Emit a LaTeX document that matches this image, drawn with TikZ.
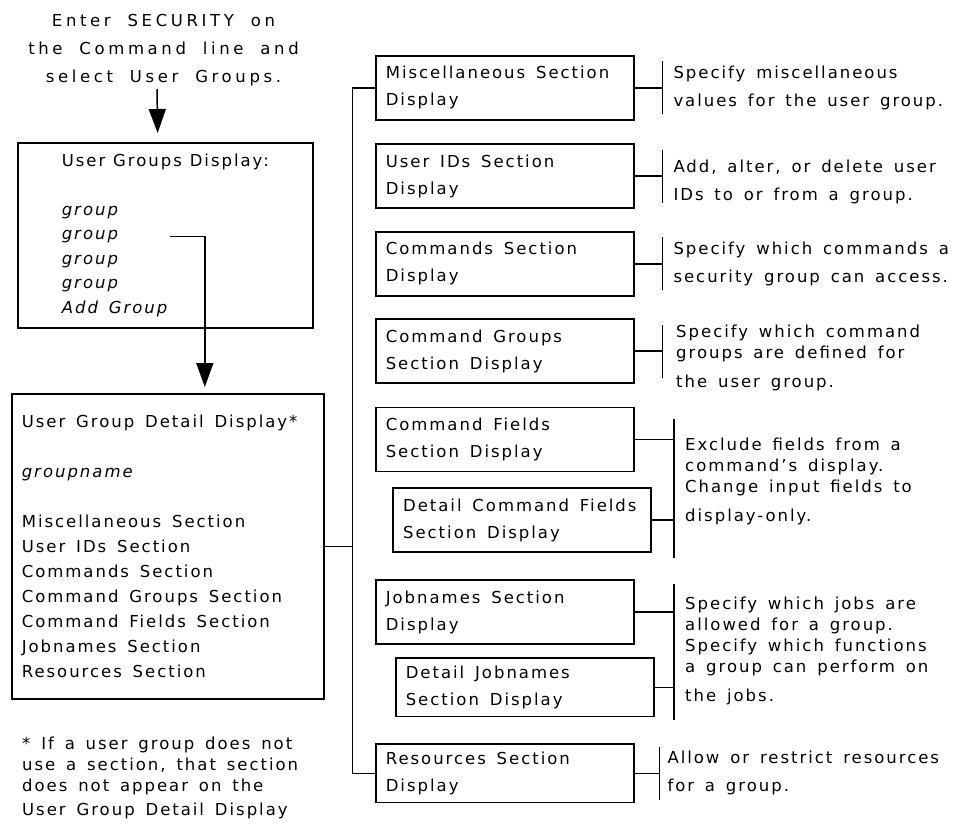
\documentclass[tikz,border=0pt]{standalone}
\usepackage{fontspec}
\usepackage{tikz}
\usetikzlibrary{arrows.meta}

\newfontfamily\boxfont{DejaVu Sans}[LetterSpace=12, WordSpace=1.5]
\newfontfamily\topfont{DejaVu Sans}[LetterSpace=22, WordSpace=1.9]
\newcommand{\toptext}{\topfont\fontsize{16.5}{28}\selectfont}
\newcommand{\boxtext}{\boxfont\fontsize{16.5}{27}\selectfont}
\newcommand{\lefttext}{\boxfont\fontsize{16.5}{25}\selectfont}
\newcommand{\desctight}{\boxfont\fontsize{16.5}{21}\selectfont}
\newcommand{\descloose}{\boxfont\fontsize{16.5}{28}\selectfont}

\tikzset{
	panel/.style={draw, line width=1.6pt, anchor=north west, align=left,
		execute at begin node={\spaceskip=0pt\xspaceskip=0pt\relax}},
	secbox/.style={panel, minimum width=258pt, minimum height=64pt,
		text width=238pt, inner xsep=10pt, font=\boxtext},
	line/.style={line width=1.5pt},
	arr/.style={line width=1.5pt, -{Triangle[length=24pt,width=17pt]}},
	desc/.style={anchor=west, inner sep=0pt, align=left},
}

\begin{document}
\begin{tikzpicture}[x=1pt, y=-1pt]
		\fill[white] (0,0) rectangle (965,823);
		\useasboundingbox (0,0) rectangle (965,823);
		% left column
		\node[font=\toptext, align=center, inner sep=3pt] (enter) at (163.5,50) {Enter SECURITY on\\the Command line and\\select User Groups.};
		\node[panel, minimum width=295pt, minimum height=185pt, text width=207pt, inner xsep=44pt,
			font=\boxfont\fontsize{16.5}{24.4}\selectfont] (ugroups) at (17,142)
			{User Groups Display:\\[24.4pt] \textit{group}\\ \textit{group}\\ \textit{group}\\ \textit{group}\\ \textit{Add Group}};
		\coordinate (grp) at (170,236.7);
		\node[panel, minimum width=312pt, minimum height=305pt, text width=292pt, inner xsep=10pt,
			font=\lefttext] (ugdetail) at (11,393)
			{User Group Detail Display*\\[25pt] \textit{groupname}\\[25pt] Miscellaneous Section\\ User IDs Section\\
			Commands Section\\ Command Groups Section\\ Command Fields Section\\ Jobnames Section\\ Resources Section};
		\node[desc, font=\desctight] (note) at (22,778) {* If a user group does not\\ use a section, that section\\ does not appear on the\\[3pt] User Group Detail Display};
		\draw[arr, shorten >=9pt] ([xshift=-6.5pt]enter.south) -- ([xshift=-7.5pt]ugroups.north);
		\draw[arr, shorten >=6pt] (grp) -| ([xshift=37pt]ugdetail.north);
		
		% section displays
		\node[secbox] (misc) at (375,55) {Miscellaneous Section\\ Display};
		\node[secbox] (userids) at (375,143.3) {User IDs Section\\ Display};
		\node[secbox] (cmds) at (375,231) {Commands Section\\ Display};
		\node[secbox] (cmdgrp) at (375,318.3) {Command Groups\\ Section Display};
		\node[secbox] (cmdfld) at (375,406.7) {Command Fields\\ Section Display};
		\node[secbox] (dcmdfld) at (392.3,487.3) {Detail Command Fields\\ Section Display};
		\node[secbox] (jobs) at (375,579.3) {Jobnames Section\\ Display};
		\node[secbox, minimum width=256pt, minimum height=58.4pt] (djobs) at (395,657.3) {Detail Jobnames\\ Section Display};
		\node[secbox, minimum height=58.4pt] (res) at (375,743.3) {Resources Section\\ Display};
		
		\draw[line] (misc.west) -- ++(-22.7,0) coordinate (trunk) |- (res.west);
		\draw[line] (ugdetail.east) -- (ugdetail.east -| trunk);
		
		% brackets
		\foreach \n/\bx in {misc/662.7, userids/662.7, cmds/662.7, cmdgrp/662.7, res/659.3} {
			\draw[line] (\n.east) -- (\n.east -| \bx,0) coordinate (b\n);
			\draw[line] ([yshift=26.5pt]b\n) -- ([yshift=-26.5pt]b\n);
		}
		\draw[line] (cmdfld.east) -- (cmdfld.east -| 674,0) coordinate (bcf);
		\draw[line] (dcmdfld.east) -- (dcmdfld.east -| 674,0) coordinate (bdcf);
		\draw[line] ([yshift=21pt]bcf) -- ([yshift=-38pt]bdcf);
		\draw[line] (jobs.east) -- (jobs.east -| 674,0) coordinate (bjob);
		\draw[line] (djobs.east) -- (djobs.east -| 674,0) coordinate (bdjob);
		\draw[line] ([yshift=28.3pt]bjob) -- ([yshift=-32.3pt]bdjob);
		
		% descriptions
		\node[desc, font=\descloose] (miscd) at (673.3,87.5) {Specify miscellaneous\\ values for the user group.};
		\node[desc, font=\descloose] (useridsd) at (673.3,182) {Add, alter, or delete user\\ IDs to or from a group.};
		\node[desc, font=\descloose] (cmdsd) at (673.3,263.5) {Specify which commands a\\ security group can access.};
		\node[desc, font=\desctight] (cmdgrpd) at (676,358.2) {Specify which command\\ groups are defined for\\[8pt] the user group.};
		\node[desc, font=\desctight] (cmdfldd) at (685,481) {Exclude fields from a\\ command’s display.\\ Change input fields to\\[8pt] display-only.};
		\node[desc, font=\desctight] (jobsd) at (685,651) {Specify which jobs are\\ allowed for a group.\\ Specify which functions\\ a group can perform on\\[8pt] the jobs.};
		\node[desc, font=\descloose] (resd) at (667.3,772.5) {Allow or restrict resources\\ for a group.};
	\end{tikzpicture}
\end{document}
